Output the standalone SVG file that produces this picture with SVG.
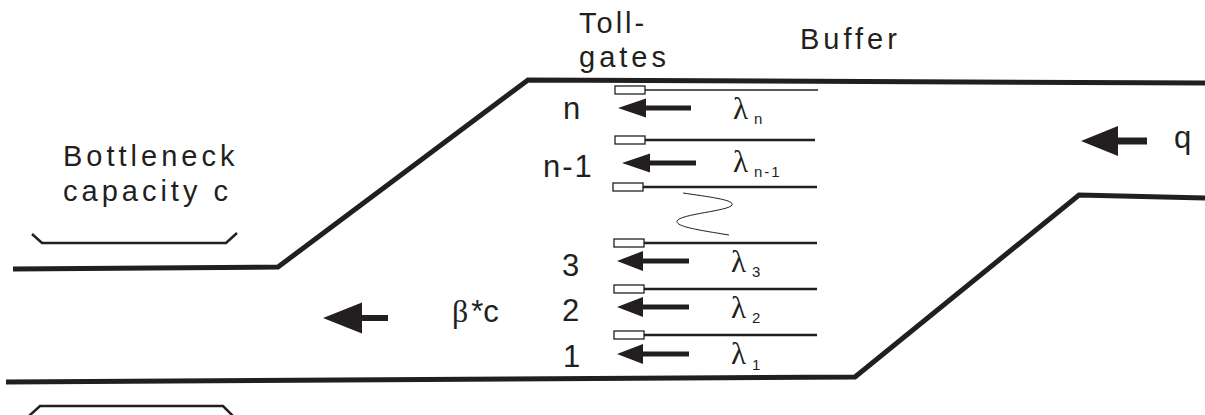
<svg xmlns="http://www.w3.org/2000/svg" width="1205" height="415" viewBox="0 0 1205 415">
<defs>
<style>
.road{fill:none;stroke:#231f20;stroke-width:5;stroke-linejoin:miter}
.brace{fill:none;stroke:#231f20;stroke-width:2.5}
.lane{stroke:#231f20;stroke-width:2.5}
.gate{fill:#fff;stroke:#231f20;stroke-width:1.3}
.arr{fill:#231f20}
.t{font-family:"Liberation Sans",Arial,sans-serif;font-size:29px;fill:#231f20}
.num{font-family:"Liberation Sans",Arial,sans-serif;font-size:31px;fill:#231f20}
.sp{letter-spacing:4px}
.g{font-family:"Liberation Serif","Times New Roman",serif;font-size:31px;fill:#231f20}
.s{font-family:"Liberation Sans",Arial,sans-serif;font-size:15px;fill:#231f20;letter-spacing:2px}
</style>
</defs>
<g id="road">
<polyline class="road" points="13,269 278,267 528,80 1205,83"/>
<polyline class="road" points="6,382 855,377 1079,195 1205,198"/>
</g>
<g id="braces">
<polyline class="brace" points="32,234 42,243 226,243 237,233"/>
<polyline class="brace" points="29,416 40,406 223,406 233,416"/>
</g>
<g id="lanes">
<line x1="645" y1="90" x2="818" y2="90" stroke="#231f20" stroke-width="1.3"/>
<line class="lane" x1="645" y1="140" x2="815" y2="140"/>
<line class="lane" x1="643" y1="187" x2="817" y2="187"/>
<line class="lane" x1="644" y1="243" x2="817" y2="243"/>
<line class="lane" x1="644" y1="289" x2="817" y2="289"/>
<line class="lane" x1="644" y1="335" x2="817" y2="335"/>
<path d="M683,193 C710,197 735,200 732,205 C729,211 680,214 677,221 C675,227 705,231 729,235" fill="none" stroke="#231f20" stroke-width="1"/>
</g>
<g id="gates">
<rect class="gate" x="615" y="86" width="30" height="8"/>
<rect class="gate" x="615" y="136" width="30" height="8"/>
<rect class="gate" x="613" y="183" width="30" height="8"/>
<rect class="gate" x="614" y="239" width="30" height="8"/>
<rect class="gate" x="614" y="285" width="30" height="8"/>
<rect class="gate" x="614" y="331" width="30" height="8"/>
</g>
<g id="connectors">
<path class="arr" d="M618,108 L646,98.5 L646,105.5 L691,105.5 L691,110.5 L646,110.5 L646,117.5 Z"/>
<path class="arr" d="M622,163 L650,153.5 L650,160.5 L696,160.5 L696,165.5 L650,165.5 L650,172.5 Z"/>
<path class="arr" d="M617,261 L643,251 L643,258.5 L689,258.5 L689,263.5 L643,263.5 L643,271 Z"/>
<path class="arr" d="M617,307 L643,297 L643,304.5 L689,304.5 L689,309.5 L643,309.5 L643,317 Z"/>
<path class="arr" d="M617,354 L643,344 L643,351.5 L689,351.5 L689,356.5 L643,356.5 L643,364 Z"/>
<path class="arr" d="M323,318 L362,302.5 L362,315 L388,315 L388,321 L362,321 L362,333.5 Z"/>
<path class="arr" d="M1081,141 L1118,126 L1118,137.5 L1147,137.5 L1147,144.5 L1118,144.5 L1118,156 Z"/>
</g>
<g id="labels">
<text class="t" x="579" y="33" style="letter-spacing:3px">Toll-</text>
<text class="t sp" x="579" y="67">gates</text>
<text class="t sp" x="800" y="49">Buffer</text>
<text class="t sp" x="63" y="166">Bottleneck</text>
<text class="t sp" x="63" y="201">capacity c</text>
<text class="num" x="563" y="119">n</text>
<text class="num" x="543" y="177" style="letter-spacing:2px">n-1</text>
<text class="num" x="562" y="276">3</text>
<text class="num" x="562" y="321">2</text>
<text class="num" x="563" y="367">1</text>
<text class="num" x="1174" y="148">q</text>
<text class="num" x="452" y="322"><tspan font-family="'Liberation Serif',serif" font-size="32">β</tspan><tspan dx="3">*c</tspan></text>
<text class="g" x="733" y="119">λ</text><text class="s" x="754" y="124">n</text>
<text class="g" x="733" y="172">λ</text><text class="s" x="754" y="177">n-1</text>
<text class="g" x="731" y="272">λ</text><text class="s" x="752" y="277">3</text>
<text class="g" x="731" y="318">λ</text><text class="s" x="752" y="323">2</text>
<text class="g" x="731" y="364">λ</text><text class="s" x="752" y="370">1</text>
</g>
</svg>
